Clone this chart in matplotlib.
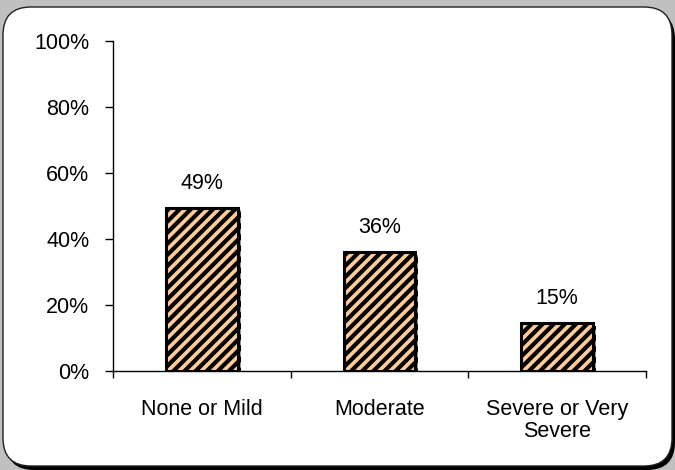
import matplotlib
matplotlib.use("Agg")
from matplotlib import pyplot as plt
from matplotlib.patches import FancyBboxPatch
from matplotlib import patheffects as pe
import numpy as np

plt.rcParams["font.family"] = ["Liberation Sans", "DejaVu Sans"]
plt.rcParams["hatch.linewidth"] = 3.0
plt.rcParams["hatch.color"] = "black"

categories = ["None or Mild", "Moderate", "Severe or Very\nSevere"]
values = [49.5, 36, 14.5]
labels = ["49%", "36%", "15%"]
y_ticks = [0, 20, 40, 60, 80, 100]

fs = 15.5

fig = plt.figure(figsize=(6.75, 4.7), dpi=100)
fig.patch.set_facecolor("#C0C0C0")

# rounded frame with shadow, drawn in inches so the corners stay round
shadow = FancyBboxPatch((0.06, 0.0), 6.69, 4.59, boxstyle="round,pad=0,rounding_size=0.28",
                        transform=fig.dpi_scale_trans, facecolor="black", edgecolor="none", zorder=-3)
frame = FancyBboxPatch((0.03, 0.04), 6.69, 4.59, boxstyle="round,pad=0,rounding_size=0.28",
                       transform=fig.dpi_scale_trans, facecolor="white", edgecolor="#202020",
                       linewidth=1.0, zorder=-2)
fig.patches.extend([shadow, frame])

ax = fig.add_axes([113 / 675, 99 / 470, 533 / 675, 330 / 470])
ax.set_facecolor("none")

x = np.arange(len(categories))
bars = ax.bar(x, values, width=0.405, color="#FFCC99", edgecolor="black", linewidth=2.2,
              hatch="///", zorder=3)
for b in bars:
    b.set_path_effects([pe.SimplePatchShadow(offset=(2, -2), shadow_rgbFace="#808080", alpha=0.8),
                        pe.Normal()])

for xi, v, lab in zip(x, values, labels):
    ax.annotate(lab, (xi, v), xytext=(0, 10), textcoords="offset points",
                ha="center", va="bottom", fontsize=fs)

ax.set_xlim(-0.5, 2.5)
ax.set_ylim(0, 100)
ax.set_yticks(y_ticks)
ax.set_yticklabels([f"{t}%" for t in y_ticks], fontsize=fs)
ax.set_xticks(x)
ax.set_xticklabels(categories, fontsize=fs, linespacing=1.05)
ax.set_xticks([-0.5, 0.5, 1.5, 2.5], minor=True)
ax.tick_params(axis="x", which="major", length=0, pad=20)
ax.tick_params(axis="x", which="minor", length=5, width=1, direction="out")
ax.tick_params(axis="y", length=6, width=1, direction="out", pad=11)

for s in ["top", "right"]:
    ax.spines[s].set_visible(False)
for s in ["left", "bottom"]:
    ax.spines[s].set_linewidth(1)
    ax.spines[s].set_color("black")

fig.savefig("out.png", dpi=100, facecolor=fig.get_facecolor())
